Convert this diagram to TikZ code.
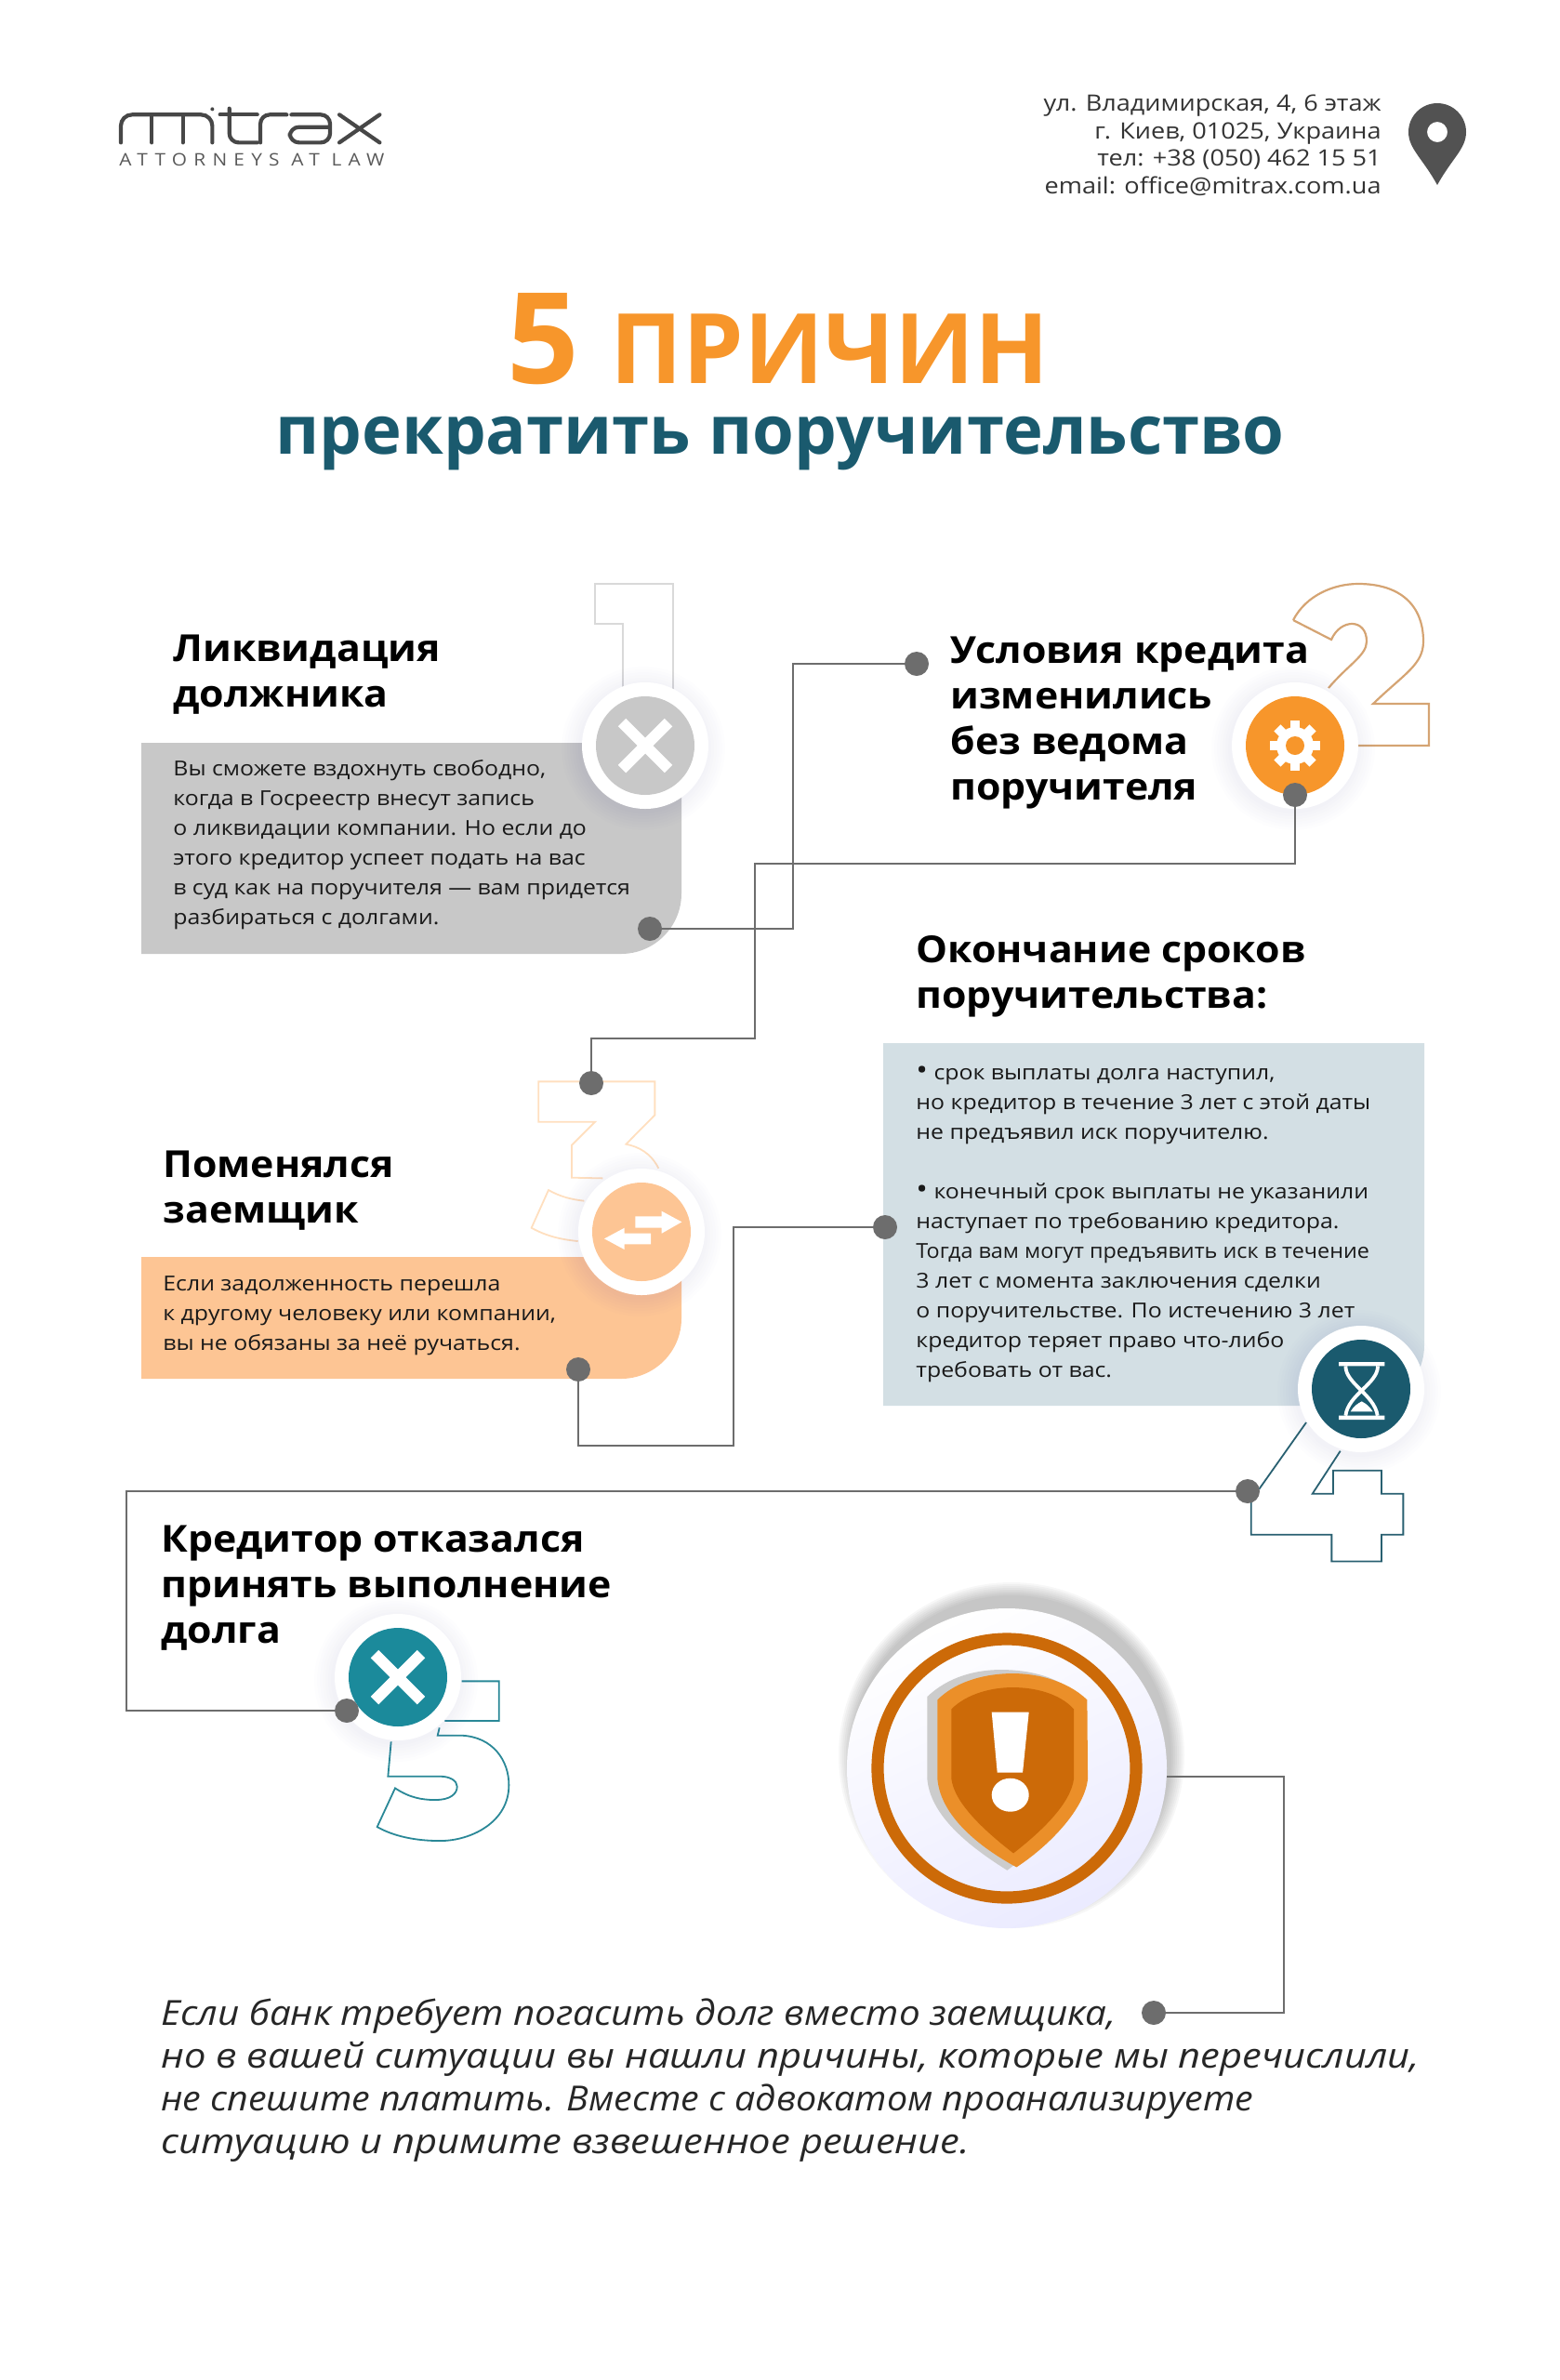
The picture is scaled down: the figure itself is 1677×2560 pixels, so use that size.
\documentclass[tikz,border=0pt]{standalone}
\usepackage{graphicx}
\usepackage{fontspec}
\setmainfont[FakeStretch=1.12, BoldFeatures={FakeStretch=1.07}]{Open Sans}
\newfontfamily\titlefont{Open Sans}
\usetikzlibrary{shapes.geometric}
\definecolor{orangeT}{HTML}{F7962B}
\definecolor{tealT}{HTML}{1A5A6E}
\definecolor{tealC}{HTML}{1B8A9B}
\definecolor{greyB}{HTML}{C8C8C8}
\definecolor{peachB}{HTML}{FDC594}
\definecolor{blueB}{HTML}{D3DFE4}
\definecolor{dotG}{HTML}{6D6D6D}
\definecolor{ringO}{HTML}{CC6A08}
\newcommand{\halo}[1]{\foreach \r in {70,73,...,88} \fill[blue!25!gray, opacity=0.012] ([shift={(-2,3)}]#1) circle (\r);}
\newcommand{\bul}{{\fontsize{15}{16}\selectfont •}}
\begin{document}
\begin{tikzpicture}[x=0.5pt, y=-0.5pt, line join=miter,
  head/.style={anchor=base west, align=left, inner sep=0, font=\fontsize{20}{24.4}\selectfont\bfseries, text=black},
  body/.style={anchor=base west, align=left, inner sep=0, font=\fontsize{11.1}{16}\selectfont, text=black!90},
  disc/.style={circle, minimum size=53pt, inner sep=0},
  halo/.style={circle, fill=white, minimum size=68pt, inner sep=0},
  dot/.style={circle, fill=dotG, minimum size=13pt, inner sep=0},
  n/.style={draw=dotG, line width=0.8pt},
  numb/.style={line width=0.9pt}]
  \useasboundingbox (0,0) rectangle (1677,2560);
  % logo
  \begin{scope}[shift={(100,80)}, x=0.1667pt, y=-0.1667pt, line width=2.1pt, draw=black!72, line cap=round]
    \draw[rounded corners=6pt] (90,220) -- (90,130) -- (385,130) -- (385,220);
    \draw (190,130) -- (190,220) (290,130) -- (290,220);
    \fill[black!72] (385,112) circle (6);
    \draw[rounded corners=5pt] (440,110) -- (440,220) -- (530,220);
    \draw (410,130) -- (530,130);
    \draw[rounded corners=5pt] (540,220) -- (540,130) -- (625,130);
    \draw[rounded corners=5pt] (640,130) -- (765,130) -- (765,220) -- (635,220) -- (635,170) -- (765,170);
    \draw (795,130) -- (925,220) (795,220) -- (925,130);
  \end{scope}
  \node[anchor=base west, inner sep=0, text=black!65, font=\fontsize{9.3}{11}\selectfont\addfontfeature{LetterSpace=39}] (lawyers) at (128,178) {ATTORNEYS AT LAW};
  % address
  \node[anchor=base east, align=right, inner sep=0, text=black!80, font=\fontsize{12.1}{14.7}\selectfont] (address) at (1486,208) {ул. Владимирская, 4, 6 этаж\\г. Киев, 01025, Украина\\тел: +38 (050) 462 15 51\\email: office@mitrax.com.ua};
  \fill[black!68, even odd rule] (1546,199) .. controls (1530,170) and (1515,160) .. (1515,142) arc[start angle=180, end angle=360, radius=31] .. controls (1577,160) and (1562,170) .. (1546,199) (1546,142) circle (11);
  % title
  \node[anchor=base west, inner sep=0, text=orangeT, font=\fontsize{68}{70}\selectfont\titlefont\bfseries] (five) at (545,412) {5};
  \node[anchor=base west, inner sep=0, text=orangeT, font=\fontsize{52.3}{60}\selectfont\titlefont\bfseries] (title) at (656,412) {ПРИЧИН};
  \node[anchor=base west, inner sep=0, text=tealT, font=\fontsize{36.2}{38}\selectfont\titlefont\bfseries] (subtitle) at (296,488) {прекратить поручительство};
  % big numbers
  \draw[numb, draw=black!15, line width=1.3pt] (670,790) -- (670,671) -- (640,671) -- (640,628) -- (724,628) -- (724,790);
  \draw[numb, draw=orange!70!black!55, line width=1.1pt] (1391,667) .. controls (1405,640) and (1435,628) .. (1461,628) .. controls (1505,628) and (1531,650) .. (1531,690) .. controls (1531,715) and (1510,725) .. (1477,757) -- (1537,757) -- (1537,802) -- (1461,802) (1429,740) .. controls (1450,715) and (1470,705) .. (1470,690) .. controls (1470,665) and (1442,665) .. (1432,688) -- (1391,667);
  \begin{scope}[shift={(540,1130)}, x=0.1667pt, y=-0.1667pt]
    \draw[numb, draw=orange!25] (505,380) .. controls (480,330) and (440,310) .. (400,302) -- (493,208) -- (493,100) -- (118,100) -- (118,230) -- (300,230) -- (225,305) -- (225,410) -- (325,412);
    \draw[numb, draw=orange!25] (265,485) .. controls (220,480) and (185,470) .. (150,450) -- (95,572) .. controls (145,600) and (195,610) .. (245,615);
  \end{scope}
  \begin{scope}[shift={(1300,1400)}, x=0.1667pt, y=-0.1667pt]
    \draw[numb, draw=tealT!85!gray] (163,605) -- (315,390) (425,482) -- (335,620) -- (402,620) -- (402,545) -- (558,545) -- (558,620) -- (628,620) -- (628,752) -- (558,752) -- (558,838) -- (397,838) -- (397,752) -- (137,752) -- (137,640);
  \end{scope}
  \begin{scope}[shift={(340,1720)}, x=0.1667pt, y=-0.1667pt]
    \draw[numb, draw=tealC!85!gray] (470,265) -- (590,265) -- (590,393) -- (415,393) (398,415) -- (392,440) -- (470,440) .. controls (570,445) and (622,520) .. (622,600) .. controls (622,720) and (500,780) .. (400,780) .. controls (320,780) and (250,765) .. (197,735) -- (255,610) .. controls (300,640) and (340,648) .. (385,648) .. controls (430,648) and (455,630) .. (455,605) .. controls (455,585) and (430,572) .. (400,572) -- (232,572) -- (242,460);
  \end{scope}
  % boxes
  \fill[greyB] (152,799) -- (733,799) -- (733,961) arc[start angle=0, end angle=90, radius=65] -- (152,1026) -- cycle;
  \fill[peachB] (152,1352) -- (733,1352) -- (733,1418) arc[start angle=0, end angle=90, radius=65] -- (152,1483) -- cycle;
  \fill[blueB] (950,1122) -- (1532,1122) -- (1532,1447) arc[start angle=0, end angle=90, radius=65] -- (950,1512) -- cycle;
  % texts
  \node[head] (h1) at (186,760) {Ликвидация\\должника};
  \node[body] (t1) at (186,994) {Вы сможете вздохнуть свободно,\\когда в Госреестр внесут запись\\о ликвидации компании. Но если до\\этого кредитор успеет подать на вас\\в суд как на поручителя — вам придется\\разбираться с долгами.};
  \node[head] (h2) at (1022,860) {Условия кредита\\изменились\\без ведома\\поручителя};
  \node[head] (h3) at (985,1084) {Окончание сроков\\поручительства:};
  \node[body] (t3) at (985,1481) {\bul{} срок выплаты долга наступил,\\но кредитор в течение 3 лет с этой даты\\не предъявил иск поручителю.\\[16pt]\bul{} конечный срок выплаты не указанили\\наступает по требованию кредитора.\\\scalebox{0.94}[1]{Тогда вам могут предъявить иск в течение}\\3 лет с момента заключения сделки\\о поручительстве. По истечению 3 лет\\кредитор теряет право что-либо\\требовать от вас.};
  \node[head] (h4) at (175,1315) {Поменялся\\заемщик};
  \node[body] (t4) at (175,1452) {Если задолженность перешла\\к другому человеку или компании,\\вы не обязаны за неё ручаться.};
  \node[head] (h5) at (173,1767) {Кредитор отказался\\принять выполнение\\долга};
  \node[anchor=base west, align=left, inner sep=0, text=black!85, font=\fontsize{18.6}{23}\selectfont\itshape] (closing) at (173,2316) {\scalebox{0.97}[1]{Если банк требует погасить долг вместо заемщика,}\\но в вашей ситуации вы нашли причины, которые мы перечислили,\\\scalebox{0.946}[1]{не спешите платить. Вместе с адвокатом проанализируете}\\ситуацию и примите взвешенное решение.};
  % icons
  \coordinate (c1) at (694,802);
  \coordinate (c2) at (1393,802);
  \coordinate (c3) at (690,1325);
  \coordinate (c4) at (1464,1494);
  \coordinate (c5) at (428,1804);
  \foreach \c in {c1,c2,c3,c4,c5} {\halo{\c}}
  \foreach \c in {c1,c2,c3,c4,c5} {\node[halo] at (\c) {};}
  \node[disc, fill=greyB] (icon1) at (c1) {};
  \node[disc, fill=orangeT] (icon2) at (c2) {};
  \node[disc, fill=peachB] (icon3) at (c3) {};
  \node[disc, fill=tealT] (icon4) at (c4) {};
  \node[disc, fill=tealC] (icon5) at (c5) {};
  % cross marks
  \draw[white, line width=6pt] ([shift={(-25,-25)}]c1) -- ([shift={(25,25)}]c1) ([shift={(-25,25)}]c1) -- ([shift={(25,-25)}]c1);
  \draw[white, line width=6pt] ([shift={(-25,-25)}]c5) -- ([shift={(25,25)}]c5) ([shift={(-25,25)}]c5) -- ([shift={(25,-25)}]c5);
  % gear
  \fill[white] (c2) circle (20);
  \foreach \a in {0,45,...,315} {\fill[white, rotate around={\a:(c2)}] ([shift={(-5,-27)}]c2) rectangle ([shift={(5,-14)}]c2);}
  \fill[orangeT] (c2) circle (10);
  % arrows
  \begin{scope}[shift={(540,1130)}, x=0.1667pt, y=-0.1667pt]
    \fill[white] (430,535) -- (515,535) -- (515,518) -- (580,553) -- (515,590) -- (515,572) -- (430,572) -- cycle;
    \fill[white] (480,590) -- (395,590) -- (395,572) -- (330,607) -- (395,642) -- (395,625) -- (480,625) -- cycle;
  \end{scope}
  % hourglass
  \begin{scope}[shift={(1300,1400)}, x=0.1667pt, y=-0.1667pt]
    \fill[white] (420,195) rectangle (568,208) (420,368) rectangle (568,381);
    \draw[white, line width=1.9pt] (442,208) .. controls (442,265) and (535,300) .. (545,368);
    \draw[white, line width=1.9pt] (546,208) .. controls (546,265) and (450,300) .. (442,368);
    \fill[white] (458,355) .. controls (470,335) and (480,330) .. (494,322) .. controls (510,330) and (520,340) .. (530,355) -- cycle;
  \end{scope}
  % badge
  \coordinate (cb) at (1083,1902);
  \foreach \r in {172,174,...,186} \fill[black, opacity=0.03] ([shift={(5,-14)}]cb) circle (\r);
  \node[circle, minimum size=172pt, inner sep=0, top color=white, bottom color=blue!8!white, shading angle=25] (badge) at (cb) {};
  \draw[ringO, line width=6.6pt] (cb) circle (139);
  \begin{scope}[shift={(880,1700)}, x=0.1667pt, y=-0.1667pt]
    \fill[black!20] (590,288) .. controls (680,288) and (780,310) .. (840,375) -- (840,640) .. controls (830,740) and (710,860) .. (610,935) .. controls (490,860) and (362,760) .. (352,640) -- (352,375) .. controls (420,310) and (510,288) .. (590,288) -- cycle;
    \fill[orangeT!95!black] (628,300) .. controls (700,300) and (800,320) .. (868,385) -- (870,640) .. controls (860,740) and (740,860) .. (640,925) .. controls (520,860) and (395,760) .. (385,640) -- (385,385) .. controls (450,320) and (550,300) .. (628,300) -- cycle;
    \fill[ringO] (628,345) .. controls (700,345) and (780,365) .. (825,415) -- (825,640) .. controls (815,720) and (720,810) .. (630,880) .. controls (540,810) and (440,720) .. (430,640) -- (430,415) .. controls (480,365) and (560,345) .. (628,345) -- cycle;
    \fill[white] (560,425) -- (680,425) -- (660,620) -- (578,620) -- cycle;
    \fill[white] (620,692) ellipse (60 and 54);
  \end{scope}
  % dots
  \node[dot] (dot1) at (699,999) {};
  \node[dot] (dot2) at (986,714) {};
  \node[dot] (dot3) at (1393,855) {};
  \node[dot] (dot4) at (636,1165) {};
  \node[dot] (dot5) at (622,1473) {};
  \node[dot] (dot6) at (952,1320) {};
  \node[dot] (dot7) at (1342,1604) {};
  \node[dot] (dot8) at (373,1840) {};
  \node[dot] (dot9) at (1241,2165) {};
  % edges
  \coordinate (j1) at (853,714);
  \coordinate (j2) at (812,929);
  \coordinate (j3) at (812,1117);
  \coordinate (j4) at (622,1555);
  \coordinate (j5) at (789,1320);
  \coordinate (j6) at (136,1840);
  \coordinate (j7) at (1381,2165);
  \draw[n] (dot1) -| (j1) -- (dot2);
  \draw[n] (dot3) |- (j2) -- (j3) -| (dot4);
  \draw[n] (dot5) -- (j4) -| (j5) -- (dot6);
  \draw[n] (dot7) -| (j6) -- (dot8);
  \draw[n] (badge.-3) -| (j7) -- (dot9);
\end{tikzpicture}
\end{document}
